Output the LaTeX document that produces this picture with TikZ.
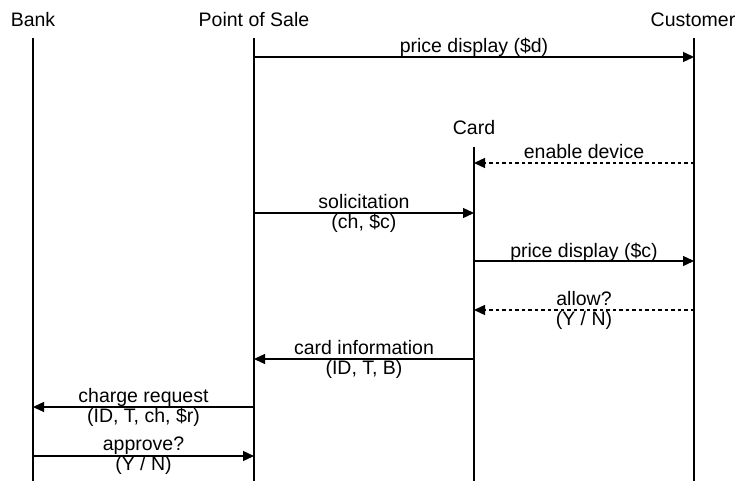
\documentclass[tikz,border=0pt]{standalone}
\usepackage{fontspec}
\setmainfont{Liberation Sans}
\usetikzlibrary{arrows.meta}
\begin{document}
\begin{tikzpicture}[x=1pt,y=-1pt,
  every node/.style={font=\fontsize{19.5}{20}\selectfont, inner sep=0pt},
  life/.style={line width=1.3pt},
  msg/.style={line width=1.3pt,-{Triangle[length=11pt,width=10pt]}},
  rmsg/.style={msg, dash pattern=on 3.5pt off 3pt},
  head/.style={anchor=base},
  lab1/.style={anchor=base, yshift=4pt},
  lab2/.style={align=center, anchor=center, yshift=0pt}]
\useasboundingbox (0,0) rectangle (738,481);
% heads
\node[head] (bank) at (33,27) {Bank};
\node[head] (pos) at (254,27) {Point of Sale};
\node[head] (cust) at (693,27) {Customer};
\node[head] (card) at (474,135) {Card};
% lifelines
\coordinate (bankT) at (33,38);  \coordinate (bankB) at (33,481);
\coordinate (posT) at (254,38);  \coordinate (posB) at (254,481);
\coordinate (custT) at (694,38); \coordinate (custB) at (694,481);
\coordinate (cardT) at (474,147); \coordinate (cardB) at (474,481);
\draw[life] (bankT) -- (bankB);
\draw[life] (posT) -- (posB);
\draw[life] (custT) -- (custB);
\draw[life] (cardT) -- (cardB);
% message end points
\coordinate (m1a) at (254,57);  \coordinate (m1b) at (694,57);
\coordinate (m2a) at (694,163); \coordinate (m2b) at (474,163);
\coordinate (m3a) at (254,213); \coordinate (m3b) at (474,213);
\coordinate (m4a) at (474,261); \coordinate (m4b) at (694,261);
\coordinate (m5a) at (694,310); \coordinate (m5b) at (474,310);
\coordinate (m6a) at (474,359); \coordinate (m6b) at (254,359);
\coordinate (m7a) at (254,407); \coordinate (m7b) at (33,407);
\coordinate (m8a) at (33,456);  \coordinate (m8b) at (254,456);
% messages
\draw[msg] (m1a) -- (m1b) node[lab1, pos=0.5] (l1) {price display (\$d)};
\draw[rmsg] (m2a) -- (m2b) node[lab1, pos=0.5] (l2) {enable device};
\draw[msg] (m3a) -- (m3b) node[lab2, pos=0.5] (l3) {solicitation\\(ch, \$c)};
\draw[msg] (m4a) -- (m4b) node[lab1, pos=0.5] (l4) {price display (\$c)};
\draw[rmsg] (m5a) -- (m5b) node[lab2, pos=0.5] (l5) {allow?\\(Y / N)};
\draw[msg] (m6a) -- (m6b) node[lab2, pos=0.5] (l6) {card information\\(ID, T, B)};
\draw[msg] (m7a) -- (m7b) node[lab2, pos=0.5] (l7) {charge request\\(ID, T, ch, \$r)};
\draw[msg] (m8a) -- (m8b) node[lab2, pos=0.5] (l8) {approve?\\(Y / N)};
\end{tikzpicture}
\end{document}
